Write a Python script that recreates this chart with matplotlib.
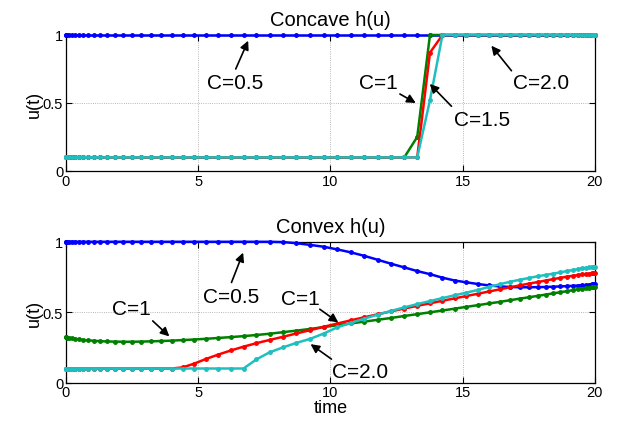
import matplotlib
matplotlib.use("Agg")
import matplotlib.pyplot as plt

plt.rcParams["font.family"] = ["Liberation Sans", "DejaVu Sans"]

# collocation times (dense near both ends)
t = [0.0, 0.013, 0.053, 0.119, 0.211, 0.330, 0.474, 0.643, 0.837, 1.055,
     1.297, 1.562, 1.850, 2.157, 2.487, 2.839, 3.207, 3.595, 3.998, 4.418,
     4.852, 5.300, 5.761, 6.233, 6.715, 7.205, 7.703, 8.207, 8.716, 9.228,
     9.743, 10.257, 10.772, 11.284, 11.793, 12.297, 12.795, 13.285, 13.767, 14.239,
     14.700, 15.148, 15.582, 16.002, 16.405, 16.793, 17.161, 17.513, 17.843, 18.150,
     18.438, 18.703, 18.945, 19.163, 19.357, 19.526, 19.670, 19.789, 19.881, 19.947,
     19.987, 20.0]

# concave h(u)
cc_05 = [1.0, 1.0, 1.0, 1.0, 1.0, 1.0, 1.0, 1.0, 1.0, 1.0,
         1.0, 1.0, 1.0, 1.0, 1.0, 1.0, 1.0, 1.0, 1.0, 1.0,
         1.0, 1.0, 1.0, 1.0, 1.0, 1.0, 1.0, 1.0, 1.0, 1.0,
         1.0, 1.0, 1.0, 1.0, 1.0, 1.0, 1.0, 1.0, 1.0, 1.0,
         1.0, 1.0, 1.0, 1.0, 1.0, 1.0, 1.0, 1.0, 1.0, 1.0,
         1.0, 1.0, 1.0, 1.0, 1.0, 1.0, 1.0, 1.0, 1.0, 1.0,
         1.0, 1.0]
cc_10 = [0.1, 0.1, 0.1, 0.1, 0.1, 0.1, 0.1, 0.1, 0.1, 0.1,
         0.1, 0.1, 0.1, 0.1, 0.1, 0.1, 0.1, 0.1, 0.1, 0.1,
         0.1, 0.1, 0.1, 0.1, 0.1, 0.1, 0.1, 0.1, 0.1, 0.1,
         0.1, 0.1, 0.1, 0.1, 0.1, 0.1, 0.1, 0.25, 1.0, 1.0,
         1.0, 1.0, 1.0, 1.0, 1.0, 1.0, 1.0, 1.0, 1.0, 1.0,
         1.0, 1.0, 1.0, 1.0, 1.0, 1.0, 1.0, 1.0, 1.0, 1.0,
         1.0, 1.0]
cc_15 = [0.1, 0.1, 0.1, 0.1, 0.1, 0.1, 0.1, 0.1, 0.1, 0.1,
         0.1, 0.1, 0.1, 0.1, 0.1, 0.1, 0.1, 0.1, 0.1, 0.1,
         0.1, 0.1, 0.1, 0.1, 0.1, 0.1, 0.1, 0.1, 0.1, 0.1,
         0.1, 0.1, 0.1, 0.1, 0.1, 0.1, 0.1, 0.1, 0.87, 1.0,
         1.0, 1.0, 1.0, 1.0, 1.0, 1.0, 1.0, 1.0, 1.0, 1.0,
         1.0, 1.0, 1.0, 1.0, 1.0, 1.0, 1.0, 1.0, 1.0, 1.0,
         1.0, 1.0]
cc_20 = [0.1, 0.1, 0.1, 0.1, 0.1, 0.1, 0.1, 0.1, 0.1, 0.1,
         0.1, 0.1, 0.1, 0.1, 0.1, 0.1, 0.1, 0.1, 0.1, 0.1,
         0.1, 0.1, 0.1, 0.1, 0.1, 0.1, 0.1, 0.1, 0.1, 0.1,
         0.1, 0.1, 0.1, 0.1, 0.1, 0.1, 0.1, 0.1, 0.52, 1.0,
         1.0, 1.0, 1.0, 1.0, 1.0, 1.0, 1.0, 1.0, 1.0, 1.0,
         1.0, 1.0, 1.0, 1.0, 1.0, 1.0, 1.0, 1.0, 1.0, 1.0,
         1.0, 1.0]

# convex h(u)
cv_05 = [1.0, 1.0, 1.0, 1.0, 1.0, 1.0, 1.0, 1.0, 1.0, 1.0,
         1.0, 1.0, 1.0, 1.0, 1.0, 1.0, 1.0, 1.0, 1.0, 1.0,
         1.0, 1.0, 1.0, 1.0, 1.0, 1.0, 1.0, 0.998, 0.990, 0.978,
         0.965, 0.946, 0.925, 0.900, 0.872, 0.844, 0.818, 0.792, 0.770, 0.745,
         0.725, 0.712, 0.700, 0.690, 0.683, 0.679, 0.677, 0.677, 0.678, 0.679,
         0.681, 0.683, 0.685, 0.687, 0.689, 0.691, 0.693, 0.695, 0.697, 0.698,
         0.699, 0.700]
cv_10 = [0.322, 0.322, 0.320, 0.318, 0.315, 0.311, 0.307, 0.303, 0.300, 0.297,
         0.294, 0.292, 0.291, 0.290, 0.290, 0.291, 0.293, 0.295, 0.298, 0.302,
         0.306, 0.311, 0.317, 0.323, 0.330, 0.338, 0.347, 0.358, 0.369, 0.381,
         0.394, 0.407, 0.420, 0.433, 0.446, 0.459, 0.473, 0.486, 0.499, 0.512,
         0.525, 0.538, 0.550, 0.562, 0.573, 0.585, 0.596, 0.606, 0.616, 0.625,
         0.634, 0.642, 0.649, 0.656, 0.662, 0.667, 0.671, 0.675, 0.678, 0.680,
         0.681, 0.682]
cv_15 = [0.1, 0.1, 0.1, 0.1, 0.1, 0.1, 0.1, 0.1, 0.1, 0.1,
         0.1, 0.1, 0.1, 0.1, 0.1, 0.1, 0.1, 0.1, 0.1, 0.108,
         0.135, 0.168, 0.199, 0.228, 0.255, 0.280, 0.303, 0.325, 0.349, 0.372,
         0.396, 0.419, 0.442, 0.464, 0.485, 0.506, 0.526, 0.545, 0.563, 0.581,
         0.598, 0.615, 0.631, 0.647, 0.662, 0.677, 0.690, 0.703, 0.714, 0.725,
         0.735, 0.744, 0.752, 0.758, 0.764, 0.768, 0.771, 0.773, 0.775, 0.776,
         0.777, 0.777]
cv_20 = [0.1, 0.1, 0.1, 0.1, 0.1, 0.1, 0.1, 0.1, 0.1, 0.1,
         0.1, 0.1, 0.1, 0.1, 0.1, 0.1, 0.1, 0.1, 0.1, 0.1,
         0.1, 0.1, 0.1, 0.1, 0.1, 0.165, 0.215, 0.250, 0.282, 0.310,
         0.348, 0.392, 0.424, 0.454, 0.483, 0.509, 0.534, 0.557, 0.579, 0.600,
         0.620, 0.639, 0.658, 0.680, 0.698, 0.716, 0.730, 0.743, 0.755, 0.765,
         0.774, 0.783, 0.792, 0.799, 0.806, 0.811, 0.815, 0.818, 0.820, 0.821,
         0.822, 0.822]

colors = ["#0000ff", "#008000", "#ff0000", "#1fbfbf"]
xticks = [0, 5, 10, 15, 20]
yticks = [0, 0.5, 1]
ytick_labels = ["0", "0.5", "1"]

# (label, text x, text y, arrow tail, arrow head)
concave_notes = [
    ("C=0.5", 6.39, 0.654, (6.42, 0.75), (6.89, 0.958)),
    ("C=1", 11.83, 0.654, (12.63, 0.566), (13.23, 0.50)),
    ("C=1.5", 15.73, 0.382, (14.58, 0.476), (13.76, 0.64)),
    ("C=2.0", 17.96, 0.647, (16.85, 0.737), (16.09, 0.921)),
]
convex_notes = [
    ("C=0.5", 6.26, 0.613, (6.26, 0.711), (6.70, 0.923)),
    ("C=1", 2.48, 0.528, (3.28, 0.438), (3.91, 0.328)),
    ("C=1", 8.88, 0.596, (9.60, 0.521), (10.30, 0.427)),
    ("C=2.0", 11.12, 0.082, (10.04, 0.167), (9.25, 0.273)),
]


def style_axes(ax, title):
    ax.set_xlim(0, 20)
    ax.set_ylim(0, 1)
    ax.set_xticks(xticks)
    ax.set_yticks(yticks)
    ax.set_yticklabels(ytick_labels)
    ax.tick_params(direction="in", top=True, right=True, length=4,
                   labelsize=10.5, pad=2)
    ax.grid(True, linestyle=":", color="#a0a0a0", linewidth=0.6)
    ax.set_title(title, fontsize=14.5, pad=7)
    ax.set_ylabel("u(t)", fontsize=13, labelpad=0)
    for sp in ax.spines.values():
        sp.set_linewidth(0.9)


def draw_notes(ax, notes):
    for label, tx, ty, tail, head in notes:
        ax.text(tx, ty, label, fontsize=15, ha="center", va="center")
        ax.annotate("", xy=head, xytext=tail,
                    arrowprops=dict(arrowstyle="-|>", color="black", lw=1.2,
                                    mutation_scale=13, shrinkA=0, shrinkB=0))


fig = plt.figure(figsize=(6.25, 4.31), dpi=100)
ax1 = fig.add_axes([0.1056, 0.601, 0.846, 0.3155])
ax2 = fig.add_axes([0.1056, 0.110, 0.846, 0.3267])

for ax, series in [(ax1, [cc_05, cc_10, cc_15, cc_20]),
                   (ax2, [cv_05, cv_10, cv_15, cv_20])]:
    for vals, c in zip(series, colors):
        ax.plot(t, vals, color=c, lw=1.8, marker=".", markersize=5,
                clip_on=False, zorder=3)

style_axes(ax1, "Concave h(u)")
style_axes(ax2, "Convex h(u)")
ax2.set_xlabel("time", fontsize=13, labelpad=0)

draw_notes(ax1, concave_notes)
draw_notes(ax2, convex_notes)

fig.savefig("out.png", dpi=100)
